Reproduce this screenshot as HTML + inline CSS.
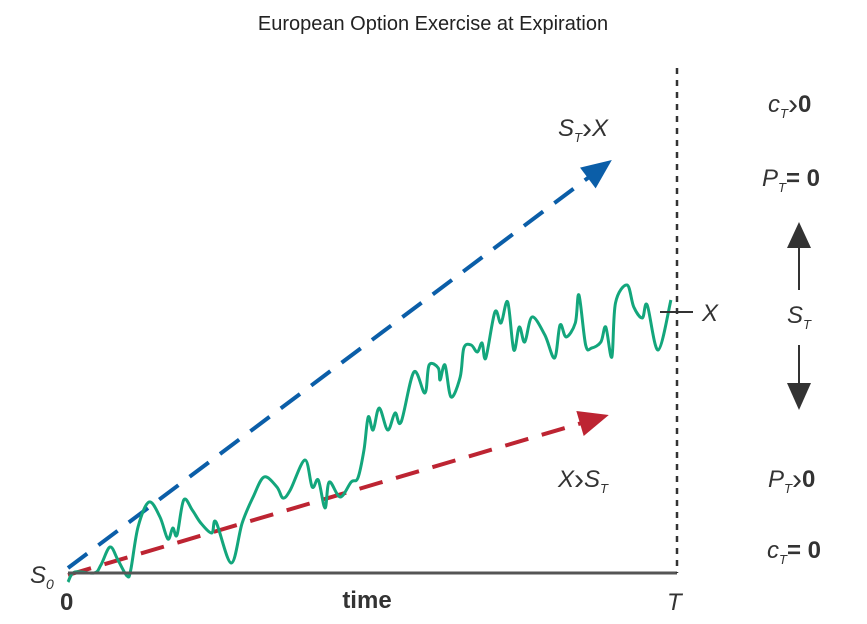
<!DOCTYPE html>
<html><head><meta charset="utf-8"><style>
html,body{margin:0;padding:0;background:#fff;}
svg{display:block;font-family:"Liberation Sans",sans-serif;}
.it{font-style:italic;fill:#333;font-size:24px;}
.b{font-weight:bold;fill:#333;font-size:24px;}
.gt{font-style:normal;font-size:30px;}
</style></head><body>
<svg id="chart" width="867" height="624" viewBox="0 0 867 624">
<text x="433" y="30" text-anchor="middle" font-size="20" fill="#222">European Option Exercise at Expiration</text>
<g id="marks"></g>
<line x1="68" y1="573" x2="677" y2="573" stroke="#555" stroke-width="3"/>
<line x1="677" y1="68" x2="677" y2="573" stroke="#333" stroke-width="2.5" stroke-dasharray="6,6"/>
<line x1="660" y1="312" x2="693" y2="312" stroke="#333" stroke-width="2"/>
<text x="702" y="321" class="it">X</text>
<text x="30" y="583" class="it">S<tspan font-size="14" dy="6">0</tspan></text>
<text x="60" y="610" class="b">0</text>
<text x="367" y="608" text-anchor="middle" class="b" font-size="22">time</text>
<text x="667" y="610" class="it">T</text>
<text x="558" y="136" class="it">S<tspan font-size="13" dy="6">T</tspan><tspan dy="-4" class="gt">›</tspan><tspan dy="-2">X</tspan></text>
<text x="558" y="487" class="it">X<tspan dy="2" class="gt">›</tspan><tspan dy="-2">S</tspan><tspan font-size="13" dy="6">T</tspan></text>
<text x="768" y="112" class="it">c<tspan font-size="13" dy="6">T</tspan><tspan dy="-4" class="gt">›</tspan><tspan dy="-2" class="b" font-style="normal">0</tspan></text>
<text x="762" y="186" class="it">P<tspan font-size="13" dy="6">T</tspan><tspan dy="-6" class="b" font-style="normal">= 0</tspan></text>
<text x="768" y="487" class="it">P<tspan font-size="13" dy="6">T</tspan><tspan dy="-4" class="gt">›</tspan><tspan dy="-2" class="b" font-style="normal">0</tspan></text>
<text x="767" y="558" class="it">c<tspan font-size="13" dy="6">T</tspan><tspan dy="-6" class="b" font-style="normal">= 0</tspan></text>
<line x1="799" y1="242" x2="799" y2="290" stroke="#333" stroke-width="2"/>
<polygon points="799,222 787,248 811,248" fill="#333"/>
<text x="787" y="323" class="it">S<tspan font-size="13" dy="6">T</tspan></text>
<line x1="799" y1="345" x2="799" y2="388" stroke="#333" stroke-width="2"/>
<polygon points="799,410 787,383 811,383" fill="#333"/>
</svg>
<script>
const times=[0,1.1,4.3,5.4,6.9,8.2,9.7,10.3,11.5,13.3,15.1,16.4,17.2,17.9,19.0,20.4,21.8,23.6,24.3,26.8,28.6,30.4,32.2,34.3,35.3,36.5,38.9,40.1,41.1,42.2,42.9,44.7,46.5,47.6,48.6,49.3,50.1,51.1,52.5,53.7,54.7,56.8,58.6,59.3,60.8,61.1,61.9,62.9,64.4,65.0,66.2,67.2,68.0,68.6,70.1,71.1,72.2,73.2,74.1,75.0,76.2,78.3,79.9,80.8,81.8,83.3,83.9,85.0,86.0,87.5,88.3,89.3,89.9,91.8,92.9,94.3,95.1,96.9,99.0];
const prices=[-9,1,0,8,26,13,-3,3,46,71,56,34,45,38,73,63,50,40,51,10,50,76,96,86,75,83,113,86,93,65,91,76,91,95,123,156,143,165,143,160,151,201,180,208,205,193,208,176,196,225,228,221,230,215,261,250,271,223,246,231,256,238,215,248,236,250,278,228,225,231,246,216,270,288,266,255,268,223,273];
const upTrend=[0,5,89.3,413];
const downTrend=[0,-2,88.8,158];
const x=t=>68+t*6.09;
const y=p=>573-p;
const NS="http://www.w3.org/2000/svg";
const g=document.getElementById('marks');
function arrow(d,color,name){
  const x1=x(d[0]),y1=y(d[1]),x2=x(d[2]),y2=y(d[3]);
  const a=Math.atan2(y2-y1,x2-x1),L=30,W=13;
  const bx=x2-L*Math.cos(a),by=y2-L*Math.sin(a);
  const l=document.createElementNS(NS,'line');
  l.setAttribute('x1',x1);l.setAttribute('y1',y1);l.setAttribute('x2',bx+4*Math.cos(a));l.setAttribute('y2',by+4*Math.sin(a));
  l.setAttribute('stroke',color);l.setAttribute('stroke-width',4);l.setAttribute('stroke-dasharray','24,14');
  
  
  g.appendChild(l);
  const p=document.createElementNS(NS,'polygon');
  const px=-Math.sin(a),py=Math.cos(a);
  p.setAttribute('points',`${x2},${y2} ${bx+W*px},${by+W*py} ${bx-W*px},${by-W*py}`);
  p.setAttribute('fill',color);
  
  
  g.appendChild(p);
}
arrow(upTrend,'#0b5ea8','up-trend');
arrow(downTrend,'#bd2432','down-trend');
const pts=times.map((t,i)=>[x(t),y(prices[i])]);
let d='M'+pts[0][0]+','+pts[0][1];
for(let i=0;i<pts.length-1;i++){
  const p0=pts[Math.max(i-1,0)],p1=pts[i],p2=pts[i+1],p3=pts[Math.min(i+2,pts.length-1)];
  const c1x=p1[0]+(p2[0]-p0[0])/6,c1y=p1[1]+(p2[1]-p0[1])/6;
  const c2x=p2[0]-(p3[0]-p1[0])/6,c2y=p2[1]-(p3[1]-p1[1])/6;
  d+=` C${c1x},${c1y} ${c2x},${c2y} ${p2[0]},${p2[1]}`;
}
const path=document.createElementNS(NS,'path');
path.setAttribute('d',d);
path.setAttribute('fill','none');path.setAttribute('stroke','#13a67c');path.setAttribute('stroke-width',3);path.setAttribute('stroke-linejoin','round');


g.appendChild(path);
</script>
</body></html>
